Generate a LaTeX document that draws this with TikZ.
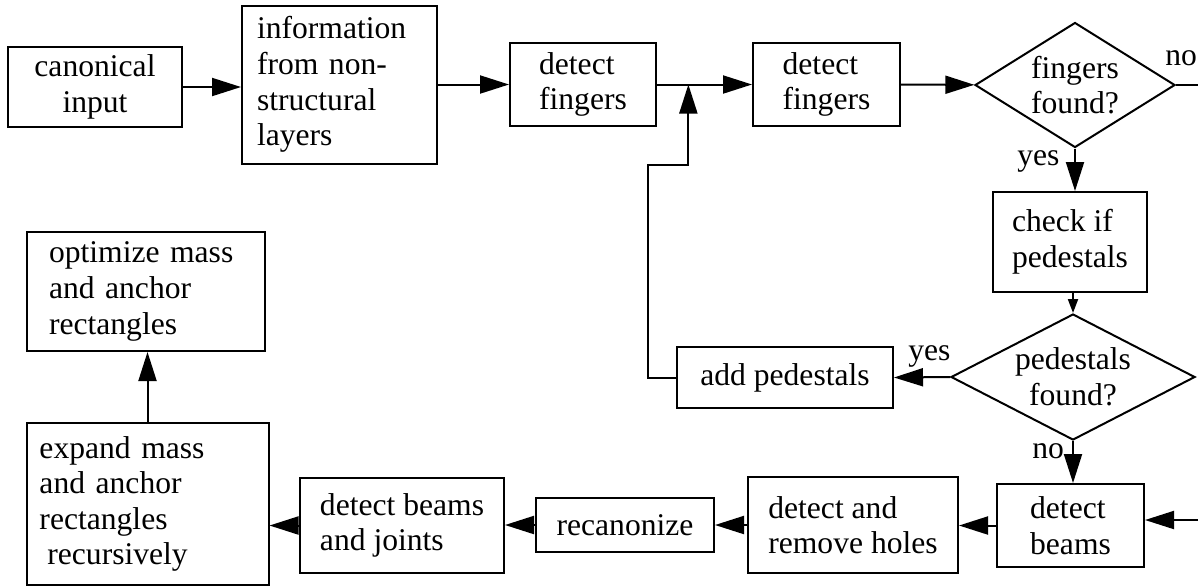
\documentclass[tikz,border=0pt]{standalone}
\usepackage{fontspec}
\setmainfont{Liberation Serif}
\usetikzlibrary{arrows.meta, shapes.geometric, positioning, calc}

\tikzset{
  box/.style={draw, line width=1pt, align=left, inner sep=0pt},
  decision/.style={draw, diamond, line width=1pt, inner sep=0pt},
  arr/.style={line width=1pt, -{Triangle[length=14.5pt,width=9pt]}},
  arrs/.style={line width=1pt, -{Triangle[length=7pt,width=5pt]}},
  lbl/.style={anchor=base west, inner sep=0pt},
}

\begin{document}
\begin{tikzpicture}[x=0.5pt, y=-0.5pt, every node/.style={font=\fontsize{15.8}{17.8}\selectfont}]
        \useasboundingbox (0,0) rectangle (1198,586);

        \node[box, align=center, minimum width=87pt, minimum height=40pt] (ci) at (95,87) {canonical\\input};
        \node[box, text width=82.5pt, inner xsep=7.5pt, minimum height=79pt] (info) at (339.5,84.5) {information\\from non-\\structural\\layers};
        \node[box, minimum width=73pt, minimum height=41.5pt] (df1) at (583,84.5) {detect\\fingers};
        \node[box, minimum width=73.5pt, minimum height=41.5pt] (df2) at (826.5,84.5) {detect\\fingers};
        \node[decision, minimum width=100pt, minimum height=62.5pt,
              label={[align=center]center:fingers\\found?}] (d1) at (1075,85) {};
%
        \node[box, minimum width=77pt, minimum height=50pt] (cp) at (1070,242) {check if\\pedestals};
        \node[decision, minimum width=122pt, minimum height=63pt,
              label={[align=center]center:pedestals\\found?}] (d2) at (1073,377) {};
        \node[box, minimum width=108pt, minimum height=30.5pt] (ap) at (785,377.5) {add pedestals};
%
        \node[box, minimum width=73.5pt, minimum height=41.5pt] (db) at (1070.5,525.5) {detect\\beams};
        \node[box, minimum width=105pt, minimum height=48pt] (drh) at (853,525) {detect and\\remove holes};
        \node[box, minimum width=89pt, minimum height=27pt] (rec) at (625,525) {recanonize};
        \node[box, minimum width=102pt, minimum height=47.5pt] (dbj) at (402,525.5) {detect beams\\and joints};
        \node[box, text width=108pt, inner xsep=6.5pt, minimum height=81pt] (exp) at (147.5,504) {expand mass\\and anchor\\rectangles\\\hspace*{0.25em}recursively};
        \node[box, text width=97pt, inner xsep=11pt, minimum height=59.5pt] (opt) at (146,291.5) {optimize mass\\and anchor\\rectangles};
%
        \coordinate (noend) at (1198,85);
        \coordinate (inb) at (1198,520);
        \coordinate (turn) at (648,165);
        \coordinate (join) at ($(df1.east)!0.33!(df2.west)$);
%
        \draw[arr] (ci.east) -- (ci.east -| info.west);
        \draw[arr] (info.east) -- (info.east -| df1.west);
        \draw[arr] (df1) -- (df2);
        \draw[arr] (df2) -- (d1);
        \draw[line width=1pt] (d1.east) -- (noend);
        \draw[arr] (d1.south) -- (d1.south |- cp.north);
        \draw[arrs] (cp.south -| d2.north) -- (d2.north);
        \draw[arr] (d2.west) -- (ap.east);
        \draw[arr] (ap.west) -| (turn) -| (join);
        \draw[arr] (d2.south) -- (d2.south |- db.north);
        \draw[arr] (inb) -- (inb -| db.east);
        \draw[arr] (db.west) -- (db.west -| drh.east);
        \draw[arr] (drh.west) -- (drh.west -| rec.east);
        \draw[arr] (rec.west) -- (rec.west -| dbj.east);
        \draw[arr] (dbj.west) -- (dbj.west -| exp.east);
        \draw[arr] (exp.north) -- (exp.north |- opt.south);
%
        \node[lbl] (no1) at (1165,65) {no};
        \node[lbl] (yes1) at (1017,165) {yes};
        \node[lbl] (yes2) at (908,360) {yes};
        \node[lbl] (no2) at (1032,458) {no};
      \end{tikzpicture}
\end{document}
